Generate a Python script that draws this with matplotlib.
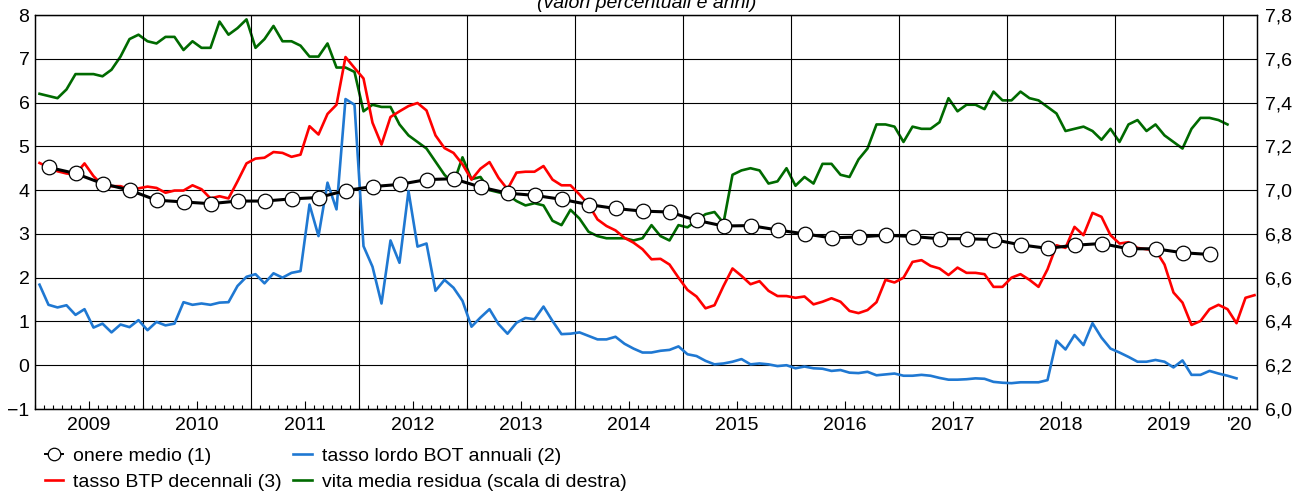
import numpy as np
import matplotlib
matplotlib.use("Agg")
import matplotlib.pyplot as plt
from matplotlib.ticker import FixedLocator, FuncFormatter

plt.rcParams['font.family'] = ['Liberation Sans', 'DejaVu Sans']

# monthly series from Jan 2009; average cost quarterly from Q1 2009
onere_medio = [4.52, 4.38, 4.15, 4.00, 3.77, 3.73, 3.69, 3.75,
               3.75, 3.80, 3.83, 3.99, 4.08, 4.13, 4.24, 4.26,
               4.07, 3.93, 3.88, 3.79, 3.67, 3.58, 3.52, 3.50,
               3.31, 3.18, 3.19, 3.09, 3.00, 2.91, 2.93, 2.97,
               2.94, 2.89, 2.89, 2.87, 2.75, 2.67, 2.74, 2.78,
               2.66, 2.66, 2.57, 2.53]

bot_annuali = [1.84, 1.38, 1.32, 1.37, 1.15, 1.28, 0.86, 0.95, 0.75, 0.93, 0.87, 1.03,
               0.80, 0.99, 0.91, 0.95, 1.44, 1.38, 1.41, 1.38, 1.43, 1.44, 1.81, 2.02,
               2.08, 1.87, 2.10, 2.00, 2.11, 2.15, 3.67, 2.95, 4.17, 3.56, 6.08, 5.95,
               2.72, 2.25, 1.41, 2.85, 2.34, 3.98, 2.71, 2.78, 1.70, 1.95, 1.77, 1.47,
               0.88, 1.09, 1.28, 0.94, 0.72, 0.97, 1.08, 1.05, 1.34, 1.01, 0.71, 0.72,
               0.75, 0.67, 0.59, 0.59, 0.65, 0.49, 0.38, 0.29, 0.29, 0.33, 0.35, 0.43,
               0.25, 0.21, 0.10, 0.02, 0.04, 0.08, 0.14, 0.02, 0.04, 0.02, -0.02, 0.00,
               -0.07, -0.03, -0.07, -0.08, -0.13, -0.11, -0.17, -0.18, -0.15, -0.23, -0.21, -0.19,
               -0.24, -0.24, -0.22, -0.24, -0.29, -0.33, -0.33, -0.32, -0.30, -0.31, -0.38, -0.40,
               -0.41, -0.39, -0.39, -0.39, -0.34, 0.56, 0.36, 0.69, 0.46, 0.96, 0.63, 0.38,
               0.29, 0.19, 0.08, 0.08, 0.12, 0.08, -0.05, 0.11, -0.22, -0.22, -0.13, -0.19,
               -0.24, -0.30]

btp_decennali = [4.62, 4.52, 4.43, 4.38, 4.36, 4.61, 4.32, 4.11, 4.09, 4.09, 4.02, 4.04,
                 4.08, 4.05, 3.94, 3.99, 3.99, 4.11, 4.02, 3.81, 3.86, 3.81, 4.20, 4.61,
                 4.72, 4.74, 4.87, 4.85, 4.76, 4.81, 5.46, 5.27, 5.74, 5.95, 7.04, 6.79,
                 6.55, 5.54, 5.04, 5.67, 5.80, 5.92, 5.99, 5.82, 5.25, 4.96, 4.85, 4.59,
                 4.24, 4.49, 4.64, 4.28, 4.02, 4.40, 4.42, 4.42, 4.55, 4.24, 4.11, 4.11,
                 3.90, 3.67, 3.33, 3.18, 3.08, 2.91, 2.80, 2.65, 2.42, 2.43, 2.30, 2.00,
                 1.72, 1.57, 1.30, 1.37, 1.81, 2.21, 2.04, 1.85, 1.92, 1.70, 1.58, 1.58,
                 1.54, 1.57, 1.39, 1.45, 1.53, 1.45, 1.24, 1.19, 1.26, 1.44, 1.95, 1.89,
                 2.00, 2.36, 2.40, 2.27, 2.21, 2.06, 2.23, 2.11, 2.11, 2.08, 1.79, 1.79,
                 2.00, 2.08, 1.95, 1.79, 2.19, 2.74, 2.68, 3.16, 2.97, 3.48, 3.39, 2.97,
                 2.78, 2.81, 2.68, 2.65, 2.63, 2.30, 1.66, 1.43, 0.92, 1.01, 1.28, 1.38,
                 1.28, 0.96, 1.54, 1.60]

vita_media = [7.44, 7.43, 7.42, 7.46, 7.53, 7.53, 7.53, 7.52, 7.55, 7.61, 7.69, 7.71,
              7.68, 7.67, 7.70, 7.70, 7.64, 7.68, 7.65, 7.65, 7.77, 7.71, 7.74, 7.78,
              7.65, 7.69, 7.75, 7.68, 7.68, 7.66, 7.61, 7.61, 7.67, 7.56, 7.56, 7.54,
              7.36, 7.39, 7.38, 7.38, 7.30, 7.25, 7.22, 7.19, 7.13, 7.07, 7.03, 7.15,
              7.05, 7.06, 7.00, 6.99, 6.98, 6.95, 6.93, 6.94, 6.93, 6.86, 6.84, 6.91,
              6.87, 6.81, 6.79, 6.78, 6.78, 6.78, 6.77, 6.78, 6.84, 6.79, 6.77, 6.84,
              6.83, 6.86, 6.89, 6.90, 6.85, 7.07, 7.09, 7.10, 7.09, 7.03, 7.04, 7.10,
              7.02, 7.06, 7.03, 7.12, 7.12, 7.07, 7.06, 7.14, 7.19, 7.30, 7.30, 7.29,
              7.22, 7.29, 7.28, 7.28, 7.31, 7.42, 7.36, 7.39, 7.39, 7.37, 7.45, 7.41,
              7.41, 7.45, 7.42, 7.41, 7.38, 7.35, 7.27, 7.28, 7.29, 7.27, 7.23, 7.28,
              7.22, 7.30, 7.32, 7.27, 7.30, 7.25, 7.22, 7.19, 7.28, 7.33, 7.33, 7.32,
              7.30]

years = ['2009', '2010', '2011', '2012', '2013', '2014', '2015', '2016',
         '2017', '2018', '2019']

RED = '#ff0000'
BLUE = '#1f78d2'
GREEN = '#006a00'

W, H = 1301, 492
fig = plt.figure(figsize=(W / 100, H / 100), dpi=100)
ax = fig.add_axes([35 / W, 1 - 409 / H, (1257 - 35) / W, (409 - 15) / H])
ax2 = ax.twinx()

x_month = lambda n: np.arange(n) + 0.5          # mid-month positions
x_quarter = np.arange(len(onere_medio)) * 3 + 1.5

# grid: integer levels and year boundaries
for v in range(-1, 9):
    ax.axhline(v, color='k', lw=0.8, zorder=0.5)
for k in range(1, 12):
    ax.axvline(12 * k, color='k', lw=0.8, zorder=0.5)

ax.plot(x_month(len(bot_annuali)), bot_annuali, color=BLUE, lw=1.9, zorder=2)
ax.plot(x_month(len(btp_decennali)), btp_decennali, color=RED, lw=1.9, zorder=2)
ax2.plot(x_month(len(vita_media)), vita_media, color=GREEN, lw=1.9, zorder=2)
ax.set_zorder(ax2.get_zorder() + 1)
ax.patch.set_visible(False)
ax.plot(x_quarter, onere_medio, color='k', lw=2.2, marker='o', ms=10.5,
        mfc='white', mec='k', mew=0.9, zorder=3)

xmax = (1257 - 35) / 9
ax.set_xlim(0, xmax)
ax.set_ylim(-1, 8)
ax2.set_ylim(6.0, 7.8)

ax.set_yticks(range(-1, 9))
ax.set_yticklabels([str(v).replace('-', '\u2212') for v in range(-1, 9)])
ax2.set_yticks(np.arange(6.0, 7.81, 0.2))
ax2.yaxis.set_major_formatter(FuncFormatter(lambda v, p: f"{v:.1f}".replace('.', ',')))
ax.tick_params(axis='y', length=0, pad=4, labelsize=14)
ax2.tick_params(axis='y', length=0, pad=6, labelsize=14)

ax.set_xticks([6 + 12 * k for k in range(len(years))])
ax.set_xticklabels(years)
ax.xaxis.set_minor_locator(FixedLocator(np.arange(0, int(xmax) + 1)))
ax.tick_params(axis='x', which='major', direction='in', length=6, width=0.8,
               pad=6, labelsize=14)
ax.tick_params(axis='x', which='minor', direction='in', length=3, width=0.8)
ax.text(132 + (xmax - 132) / 2, -0.021, "'20", transform=ax.get_xaxis_transform(),
        ha='center', va='top', fontsize=14)
for sp in list(ax.spines.values()) + list(ax2.spines.values()):
    sp.set_linewidth(0.9)

fig.text(647 / W, 1 - 8 / H, '(valori percentuali e anni)', ha='center',
         va='baseline', fontsize=14, style='italic')

handles = [
    plt.Line2D([], [], color='k', lw=1.4, marker='o', ms=9, mfc='white', mec='k', mew=0.9),
    plt.Line2D([], [], color=RED, lw=1.9),
    plt.Line2D([], [], color=BLUE, lw=1.9),
    plt.Line2D([], [], color=GREEN, lw=1.9),
]
labels = ['onere medio (1)', 'tasso BTP decennali (3)',
          'tasso lordo BOT annuali (2)', 'vita media residua (scala di destra)']
fig.legend(handles, labels, ncol=2, loc='upper left',
           bbox_to_anchor=(45 / W, 1 - 447 / H), frameon=False, fontsize=14,
           borderpad=0, borderaxespad=0, handlelength=0.95, handletextpad=0.5,
           columnspacing=0.6, labelspacing=0.45)

fig.savefig('out.png', dpi=100)
